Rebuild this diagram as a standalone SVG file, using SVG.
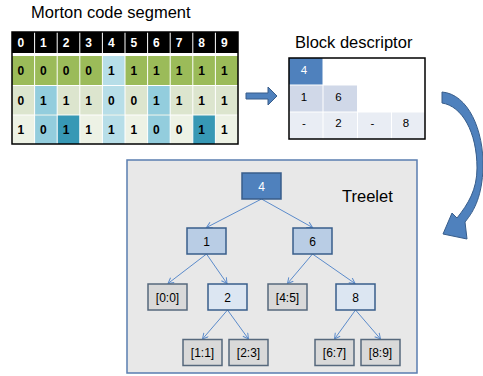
<svg xmlns="http://www.w3.org/2000/svg" width="483" height="376" viewBox="0 0 483 376">
<defs>
<style>
.title{font-family:"Liberation Sans",Arial,sans-serif;font-size:16.5px;fill:#000}
.hd{font-family:"Liberation Sans",Arial,sans-serif;font-size:12px;font-weight:bold;fill:#fff}
.cd{font-family:"Liberation Sans",Arial,sans-serif;font-size:12px;font-weight:bold;fill:#000}
.bd{font-family:"Liberation Sans",Arial,sans-serif;font-size:11.5px;fill:#000;text-anchor:middle}
.nl{font-family:"Liberation Sans",Arial,sans-serif;font-size:12px;fill:#000;text-anchor:middle}
.g{fill:#9BBB59}.r2{fill:#DCE5CE}.r3{fill:#EDF2E5}.lb{fill:#B7DEE8}.mb{fill:#93CDDD}.db{fill:#3798B5}
.n-root{fill:#4F81BD;stroke:#385D8A;stroke-width:1.5}
.n-l2{fill:#B9CDE5;stroke:#385D8A;stroke-width:1.5}
.n-l3{fill:#DCE6F2;stroke:#385D8A;stroke-width:1.5}
.n-gr{fill:#D9D9D9;stroke:#56687C;stroke-width:1.5}
.conn{stroke:#5B8BCB;stroke-width:1;fill:none;marker-end:url(#ah)}
</style>
<marker id="ah" markerUnits="userSpaceOnUse" markerWidth="8" markerHeight="8" refX="6" refY="3.5" orient="auto">
<path d="M0.5,0.5 L6,3.5 L0.5,6.5" fill="none" stroke="#5B8BCB" stroke-width="1"/>
</marker>
</defs>

<text class="title" x="31" y="18.3">Morton code segment</text>

<g id="morton-table">
<rect x="12" y="32" width="226" height="112" fill="#fff"/>
<rect x="12" y="32" width="226" height="21" fill="#000"/>
<rect x="12" y="56" width="226" height="29" class="g"/>
<rect x="12" y="86" width="226" height="28.5" class="r2"/>
<rect x="12" y="115.5" width="226" height="28.5" class="r3"/>
<!-- highlighted cells -->
<rect x="102.4" y="56" width="22.6" height="29" class="lb"/>
<rect x="34.6" y="86" width="22.6" height="28.5" class="mb"/>
<rect x="102.4" y="86" width="22.6" height="28.5" class="lb"/>
<rect x="147.6" y="86" width="22.6" height="28.5" class="mb"/>
<rect x="34.6" y="115.5" width="22.6" height="28.5" class="mb"/>
<rect x="57.2" y="115.5" width="22.6" height="28.5" class="db"/>
<rect x="102.4" y="115.5" width="22.6" height="28.5" class="lb"/>
<rect x="147.6" y="115.5" width="22.6" height="28.5" class="mb"/>
<rect x="192.8" y="115.5" width="22.6" height="28.5" class="db"/>
<!-- separators -->
<g stroke="#fff" stroke-width="1">
<line x1="34.6" y1="32" x2="34.6" y2="144"/><line x1="57.2" y1="32" x2="57.2" y2="144"/>
<line x1="79.8" y1="32" x2="79.8" y2="144"/><line x1="102.4" y1="32" x2="102.4" y2="144"/>
<line x1="125" y1="32" x2="125" y2="144"/><line x1="147.6" y1="32" x2="147.6" y2="144"/>
<line x1="170.2" y1="32" x2="170.2" y2="144"/><line x1="192.8" y1="32" x2="192.8" y2="144"/>
<line x1="215.4" y1="32" x2="215.4" y2="144"/>
</g>
<rect x="12" y="32" width="226" height="112" fill="none" stroke="#000" stroke-width="1.5"/>
<g class="hd">
<text x="17.5" y="46.7">0</text><text x="40.1" y="46.7">1</text><text x="62.7" y="46.7">2</text><text x="85.3" y="46.7">3</text><text x="107.9" y="46.7">4</text>
<text x="130.5" y="46.7">5</text><text x="153.1" y="46.7">6</text><text x="175.7" y="46.7">7</text><text x="198.3" y="46.7">8</text><text x="220.9" y="46.7">9</text>
</g>
<g class="cd">
<text x="17.5" y="75">0</text><text x="40.1" y="75">0</text><text x="62.7" y="75">0</text><text x="85.3" y="75">0</text><text x="107.9" y="75">1</text>
<text x="130.5" y="75">1</text><text x="153.1" y="75">1</text><text x="175.7" y="75">1</text><text x="198.3" y="75">1</text><text x="220.9" y="75">1</text>
<text x="17.5" y="104.5">0</text><text x="40.1" y="104.5">1</text><text x="62.7" y="104.5">1</text><text x="85.3" y="104.5">1</text><text x="107.9" y="104.5">0</text>
<text x="130.5" y="104.5">0</text><text x="153.1" y="104.5">1</text><text x="175.7" y="104.5">1</text><text x="198.3" y="104.5">1</text><text x="220.9" y="104.5">1</text>
<text x="17.5" y="133.5">1</text><text x="40.1" y="133.5">0</text><text x="62.7" y="133.5">1</text><text x="85.3" y="133.5">1</text><text x="107.9" y="133.5">1</text>
<text x="130.5" y="133.5">1</text><text x="153.1" y="133.5">0</text><text x="175.7" y="133.5">0</text><text x="198.3" y="133.5">1</text><text x="220.9" y="133.5">1</text>
</g>
</g>

<g id="arrow-right">
<path d="M246,93 L268,93 L268,87 L277,96 L268,105 L268,99 L246,99 Z" fill="#4F81BD" stroke="#385D8A" stroke-width="1"/>
</g>

<text class="title" x="295" y="48.3">Block descriptor</text>

<g id="block-descriptor">
<rect x="289" y="58" width="136" height="81" fill="#fff"/>
<rect x="289" y="58" width="33.5" height="26.5" fill="#4F81BD"/>
<rect x="289" y="85.5" width="33.5" height="26" fill="#D0D8E8"/>
<rect x="323.5" y="85.5" width="33.5" height="26" fill="#D0D8E8"/>
<rect x="289" y="112.5" width="33.5" height="26.5" fill="#E9EDF4"/>
<rect x="323.5" y="112.5" width="33.5" height="26.5" fill="#E9EDF4"/>
<rect x="358" y="112.5" width="33" height="26.5" fill="#E9EDF4"/>
<rect x="392" y="112.5" width="33" height="26.5" fill="#E9EDF4"/>
<rect x="289" y="58" width="136" height="81" fill="none" stroke="#000" stroke-width="1.5"/>
<text class="bd" x="304" y="73.5" fill="#fff" style="fill:#fff">4</text>
<text class="bd" x="304" y="100.5">1</text>
<text class="bd" x="338.5" y="100.5">6</text>
<text class="bd" x="304" y="127">-</text>
<text class="bd" x="338.5" y="127">2</text>
<text class="bd" x="372.5" y="127">-</text>
<text class="bd" x="406" y="127">8</text>
</g>

<g id="curved-arrow">
<path d="M442,92 C468,94 484,130 483,168 C482,195 475,210 465,222 L467,239 L443,234 L452,213 L457,218 C468,204 477,190 477,168 C477,132 462,106 442,103 Z" fill="#4F81BD" stroke="#385D8A" stroke-width="1"/>
</g>

<g id="treelet">
<rect x="127" y="160" width="290" height="213" fill="#E8E8E8" stroke="#5A7DB0" stroke-width="1.5"/>
<text class="title" x="342" y="202.3">Treelet</text>
</g>

<g id="connectors">
<line class="conn" x1="261.5" y1="199" x2="206.5" y2="227.5"/>
<line class="conn" x1="261.5" y1="199" x2="312.5" y2="227.5"/>
<line class="conn" x1="206.5" y1="254" x2="168" y2="283.5"/>
<line class="conn" x1="206.5" y1="254" x2="227" y2="283.5"/>
<line class="conn" x1="312.5" y1="254" x2="287.5" y2="283.5"/>
<line class="conn" x1="312.5" y1="254" x2="355" y2="283.5"/>
<line class="conn" x1="227.5" y1="310" x2="202.5" y2="339"/>
<line class="conn" x1="227.5" y1="310" x2="248.5" y2="339"/>
<line class="conn" x1="355.5" y1="310" x2="334.5" y2="339"/>
<line class="conn" x1="355.5" y1="310" x2="380.5" y2="339"/>
</g>

<g id="node-4"><rect class="n-root" x="242" y="173" width="39" height="26"/><text class="nl" x="261.5" y="190.5" style="fill:#fff">4</text></g>
<g id="node-1"><rect class="n-l2" x="187" y="228" width="39" height="26"/><text class="nl" x="206.5" y="245.5">1</text></g>
<g id="node-6"><rect class="n-l2" x="293" y="228" width="39" height="26"/><text class="nl" x="312.5" y="245.5">6</text></g>
<g id="node-0-0"><rect class="n-gr" x="148" y="284" width="39" height="26"/><text class="nl" x="167.5" y="301.5">[0:0]</text></g>
<g id="node-2"><rect class="n-l3" x="208" y="284" width="39" height="26"/><text class="nl" x="227.5" y="301.5">2</text></g>
<g id="node-4-5"><rect class="n-gr" x="268" y="284" width="39" height="26"/><text class="nl" x="287.5" y="301.5">[4:5]</text></g>
<g id="node-8"><rect class="n-l3" x="336" y="284" width="39" height="26"/><text class="nl" x="355.5" y="301.5">8</text></g>
<g id="node-1-1"><rect class="n-gr" x="183" y="339.5" width="39" height="26"/><text class="nl" x="202.5" y="357">[1:1]</text></g>
<g id="node-2-3"><rect class="n-gr" x="229" y="339.5" width="39" height="26"/><text class="nl" x="248.5" y="357">[2:3]</text></g>
<g id="node-6-7"><rect class="n-gr" x="315" y="339.5" width="39" height="26"/><text class="nl" x="334.5" y="357">[6:7]</text></g>
<g id="node-8-9"><rect class="n-gr" x="361" y="339.5" width="39" height="26"/><text class="nl" x="380.5" y="357">[8:9]</text></g>
</svg>
